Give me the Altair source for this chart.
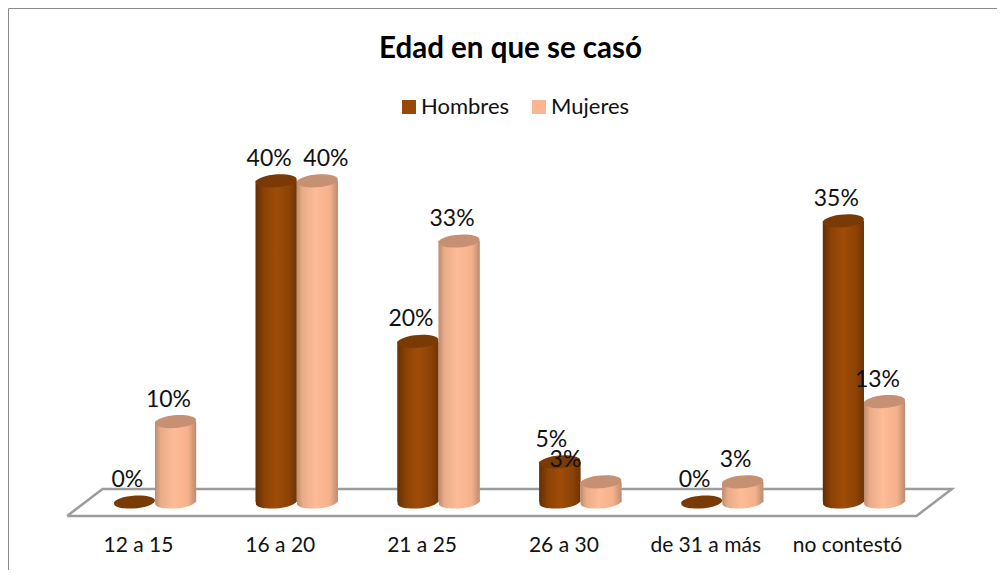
import altair as alt
import pandas as pd

categories = ["12 a 15", "16 a 20", "21 a 25", "26 a 30", "de 31 a más", "no contestó"]
hombres = [0, 40, 20, 5, 0, 35]
mujeres = [10, 40, 32.5, 2.5, 2.5, 12.5]
hombres_labels = ["0%", "40%", "20%", "5%", "0%", "35%"]
mujeres_labels = ["10%", "40%", "33%", "3%", "3%", "13%"]
axis_positions = [-0.12, 0.88, 1.88, 2.88, 3.88, 4.88]
hombres_label_shift = [-0.05, -0.05, -0.05, -0.06, -0.05, -0.05]
mujeres_label_shift = [-0.05, 0.06, -0.05, -0.25, -0.05, -0.05]
floor_x = [-0.62, -0.37, 5.62, 5.37, -0.62]
floor_y = [-1.74, 1.62, 1.62, -1.74, -1.74]

BAR = 0.145
ELLIPSE = "M-0.996,0.08 A1,0.3 -4.5 1 1 0.996,-0.08 A1,0.3 -4.5 1 1 -0.996,0.08 Z"
FONT = "Lato"


def frame(values, labels, shift, side):
    return pd.DataFrame({
        "cat": categories,
        "value": values,
        "label": labels,
        "series": "Hombres" if side < 0 else "Mujeres",
        "cx": [i + side * BAR for i in range(len(values))],
        "x0": [i + side * BAR - BAR for i in range(len(values))],
        "x1": [i + side * BAR + BAR for i in range(len(values))],
        "lx": [i + side * BAR + s for i, s in enumerate(shift)],
    })


xs = alt.Scale(domain=[-1.0367, 5.938], nice=False, zero=False)
ys = alt.Scale(domain=[-8.468, 61.52], nice=False, zero=False)
xaxis = alt.Axis(
    values=axis_positions,
    labelExpr="%r[indexof(%r, datum.value)]" % (categories, axis_positions),
    domain=False, ticks=False, grid=False, title=None, offset=-25,
    labelFont=FONT, labelFontSize=21, labelColor="#111111", labelPadding=0, labelFlush=False,
    labelOverlap=False, labelBaseline="middle", labelLimit=300)
X = lambda f: alt.X(f"{f}:Q", scale=xs, axis=xaxis)
Y = lambda f: alt.Y(f"{f}:Q", scale=ys, axis=None)


def grad(stops):
    return alt.LinearGradient(
        gradient="linear", x1=0, x2=1, y1=0, y2=0,
        stops=[alt.GradientStop(offset=o, color=c) for o, c in stops],
    )


def layers(df, stops, top):
    g = grad(stops)
    solid = alt.Chart(df[df.value > 0]).mark_rect().encode(
        x=X("x0"), x2="x1:Q", y=Y("value"), y2=alt.Y2(datum=0),
        color=alt.Color("series:N", scale=alt.Scale(domain=["Hombres", "Mujeres"], range=["#984807", "#FBB592"]),
                        legend=alt.Legend(
                            title=None, orient="none", legendX=390, legendY=88, columns=2, direction="horizontal",
                            symbolType="square", symbolSize=196, symbolStrokeWidth=0, labelFont=FONT, labelFontSize=22,
                            labelColor="#111111", columnPadding=18, labelOffset=1, labelLimit=200)),
    )
    shade = alt.Chart(df[df.value > 0]).mark_rect(color=g).encode(
        x=X("x0"), x2="x1:Q", y=Y("value"), y2=alt.Y2(datum=0))
    bottom = alt.Chart(df[df.value > 0]).mark_point(
        shape=ELLIPSE, size=1681, filled=True, opacity=1, strokeWidth=0, color=g
    ).encode(x=X("cx"), y=alt.Y("base:Q", scale=ys, axis=None)).transform_calculate(base="0")
    cap = alt.Chart(df).mark_point(
        shape=ELLIPSE, size=1681, filled=True, opacity=1, strokeWidth=0, color=top
    ).encode(x=X("cx"), y=Y("value"))
    return [bottom, solid, shade, cap]


h = frame(hombres, hombres_labels, hombres_label_shift, -1)
m = frame(mujeres, mujeres_labels, mujeres_label_shift, 1)

floor = alt.Chart(pd.DataFrame({"fx": floor_x, "fy": floor_y, "o": range(len(floor_x))})).mark_line(
    color="#9C9C9C", strokeWidth=2.5, strokeJoin="miter"
).encode(x=X("fx"), y=Y("fy"), order="o:Q")

labels = alt.Chart(pd.concat([h, m])).mark_text(
    dy=-22, font=FONT, fontSize=23, color="#111111"
).encode(x=X("lx"), y=Y("value"), text="label:N")

H_STOPS = [(0, "#652F04"), (0.22, "#8C4306"), (0.5, "#A04C08"), (0.8, "#8C4306"), (1, "#6E3505")]
M_STOPS = [(0, "#BC8C70"), (0.14, "#E9AC88"), (0.45, "#FDBB97"), (0.8, "#F5B18B"), (1, "#BC8C70")]

chart = alt.layer(
    floor,
    *layers(h, H_STOPS, "#7A3A06"),
    *layers(m, M_STOPS, "#C69072"),
    labels,
).properties(
    width=989, height=562, padding=0,
    autosize=alt.AutoSizeParams(type="none"),
    title=alt.TitleParams("Edad en que se casó", font=FONT, fontSize=29.5, fontWeight="bold", color="#000000",
                          anchor="middle", offset=-56, dx=8),
).configure_view(stroke="#8A8A8A", strokeWidth=1)

chart.save("out.html", embed_options={"renderer": "svg", "actions": False})
